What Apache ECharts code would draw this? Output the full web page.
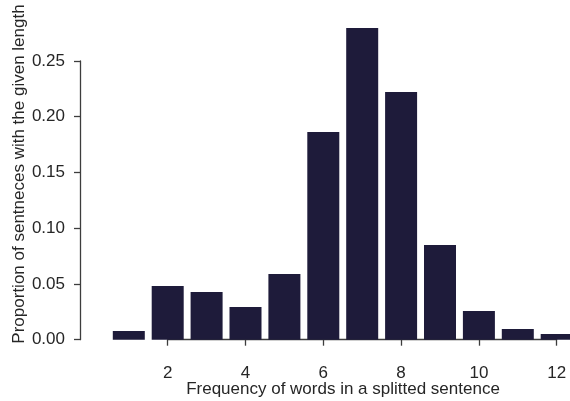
<!DOCTYPE html>
<html>
<head>
<meta charset="utf-8">
<script src="https://cdn.jsdelivr.net/npm/echarts@6/dist/echarts.min.js"></script>
<style>
html,body{margin:0;padding:0;background:#fff;}
#chart{width:570px;height:401px;}
</style>
</head>
<body>
<div id="chart"></div>
<script>
// Data
const wordCounts = [1, 2, 3, 4, 5, 6, 7, 8, 9, 10, 11, 12];
const proportions = [0.0078, 0.0482, 0.0428, 0.0293, 0.0589, 0.1863, 0.2796, 0.2222, 0.0849, 0.0257, 0.0096, 0.0051];
const xTitle = 'Frequency of words in a splitted sentence';
const yTitle = 'Proportion of sentneces with the given length';

const FONT = "'Liberation Sans', Arial, sans-serif";
const FS = 17;
const TXT = '#262626';
const AX = '#3d3d3d';

const chart = echarts.init(document.getElementById('chart'), null, {renderer: 'canvas'});
const data = wordCounts.map((x, i) => [x, proportions[i]]);

chart.setOption({
  animation: false,
  backgroundColor: '#ffffff',
  grid: {left: 167.7, right: 13.3, top: 61, bottom: 61.3, containLabel: false},
  xAxis: {
    type: 'value', min: 2, max: 12, interval: 2, offset: 10,
    axisLine: {show: true, lineStyle: {color: AX, width: 1.3}},
    axisTick: {show: true, length: 6, lineStyle: {color: AX, width: 1.3}},
    splitLine: {show: false},
    axisLabel: {color: TXT, fontFamily: FONT, fontSize: FS, margin: 15}
  },
  yAxis: {
    type: 'value', min: 0, max: 0.25, interval: 0.05, offset: 87.7,
    axisLine: {show: true, lineStyle: {color: AX, width: 1.3}},
    axisTick: {show: true, length: 6, lineStyle: {color: AX, width: 1.3}},
    splitLine: {show: false},
    axisLabel: {color: TXT, fontFamily: FONT, fontSize: FS, margin: 15,
      formatter: v => v.toFixed(2)}
  },
  series: [{
    type: 'bar', data: data, barWidth: 32, clip: false,
    itemStyle: {color: '#1e1b3a'}
  }],
  graphic: [
    {type: 'text', x: 343, y: 389.5,
      style: {text: xTitle, fontFamily: FONT, fontSize: FS, fill: TXT, align: 'center', verticalAlign: 'middle'}},
    {type: 'text', x: 19.5, y: 174, rotation: Math.PI / 2,
      style: {text: yTitle, fontFamily: FONT, fontSize: FS, fill: TXT, align: 'center', verticalAlign: 'middle'}}
  ]
});
</script>
</body>
</html>
